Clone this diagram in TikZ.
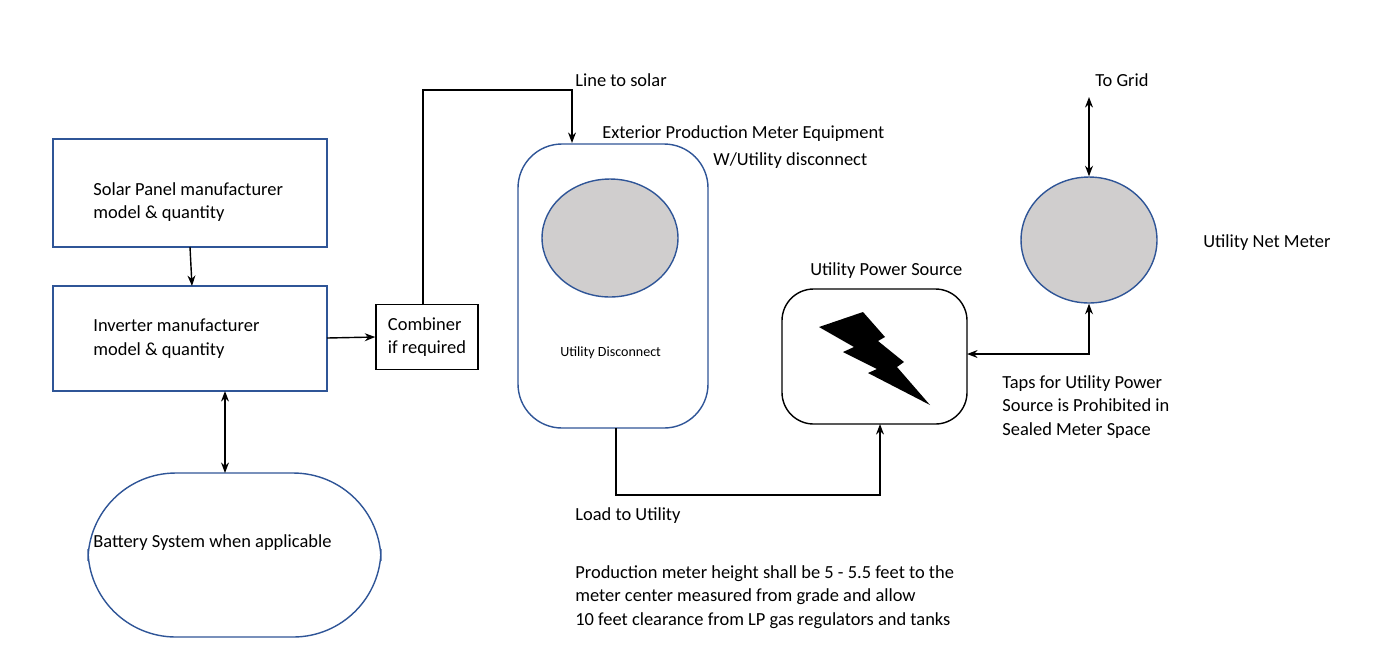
\documentclass[tikz,border=0pt]{standalone}
\usepackage{fontspec}
\setmainfont{Carlito}
\usetikzlibrary{shapes.geometric,arrows.meta,positioning}
\definecolor{meterblue}{HTML}{2F5597}
\definecolor{metergray}{HTML}{D0CECE}
\tikzset{
  box/.style={
    rectangle,
    draw=meterblue,
    thick,
  },
  meter/.style={
    ellipse,
    draw=meterblue,
    thick,
    fill=metergray,
  },
  txt/.style={
    anchor=west,
    inner sep=0pt,
    align=left,
    font=\fontsize{10.5}{13.5}\selectfont,
  },
  arrow/.style={
    thick, -{Stealth[length=6pt]},
  },
  darrow/.style={
    thick, {Stealth[length=6pt]}-{Stealth[length=6pt]},
  },
}

\begin{document}
\begin{tikzpicture}[x=0.02cm, y=-0.02cm]
  \useasboundingbox (0,0) rectangle (1389,664);

  % Solar side
  \draw[box] (53,139) rectangle (327,247);
  \coordinate (solar_b) at (190,247);
  \node (solar_txt) [txt] at (93,202) {Solar Panel manufacturer\\model \& quantity};
  \draw[box] (53,286) rectangle (327,391);
  \coordinate (inv_t) at (192,286);
  \coordinate (inv_b) at (225,391);
  \coordinate (inv_r) at (327,338);
  \node (inv_txt) [txt] at (93,339) {Inverter manufacturer\\model \& quantity};
  \draw[box, rounded corners=50] (88,473) rectangle (381,637);
  \coordinate (bat_t) at (225,473);
  \node (bat_txt) [txt] at (93,543) {Battery System when applicable};

  % Combiner
  \node (comb) [draw, thick, minimum width=2.04cm, minimum height=1.3cm,
    txt, anchor=center, inner sep=3pt] at (427,337) {Combiner\\if required};
  \coordinate (comb_t) at (423,305);
  \coordinate (solar_c1) at (423,90);
  \coordinate (solar_c2) at (572,90);
  \coordinate (meq_t) at (572,143);
  \node (line_txt) [txt] at (575,80) {Line to solar};

  % Production meter equipment
  \draw[box, rounded corners=25] (518,144) rectangle (708,428);
  \node (pmeter) [meter, minimum width=2.72cm, minimum height=2.36cm] at (610,238) {};
  \node (disc_txt) [txt, font=\fontsize{8}{10}\selectfont] at (560,353) {Utility Disconnect};
  \node (meq_txt1) [txt] at (602,134) {Exterior Production Meter Equipment};
  \node (meq_txt2) [txt] at (713,161) {W/Utility disconnect};
  \coordinate (meq_b) at (616,428);
  \coordinate (load_c1) at (616,495);
  \coordinate (load_c2) at (880,495);
  \node (load_txt) [txt] at (575,516) {Load to Utility};

  % Utility power source
  \draw[thick, rounded corners=18] (782,289) rectangle (967,424);
  \coordinate (ups_b) at (880,424);
  \coordinate (ups_r) at (967,354);
  \node (ups_txt) [txt] at (810,271) {Utility Power Source};
  \fill (819,327) -- (863,312) -- (885,337) -- (878,341) -- (904,362) -- (897,367)
    -- (930,405) -- (868,373) -- (877,369) -- (843,352) -- (854,347) -- cycle;

  % Net meter
  \node (nmeter) [meter, minimum width=2.72cm, minimum height=2.52cm] at (1089,240) {};
  \node (nm_txt) [txt] at (1203,243) {Utility Net Meter};
  \coordinate (grid) at (1089,97);
  \node (grid_txt) [txt] at (1095,80) {To Grid};
  \coordinate (tap_c) at (1089,354);
  \node (tap_txt) [txt] at (1002,407) {Taps for Utility Power\\Source is Prohibited in\\Sealed Meter Space};

  % Note
  \node (note_txt) [txt] at (575,597) {Production meter height shall be 5 - 5.5 feet to the\\meter center measured from grade and allow\\10 feet clearance from LP gas regulators and tanks};

  % Arrows
  \draw[arrow] (solar_b) -- (inv_t);
  \draw[darrow] (inv_b) -- (bat_t);
  \draw[arrow] (inv_r) -- (comb.west);
  \draw[arrow] (comb_t) -- (solar_c1) -- (solar_c2) -- (meq_t);
  \draw[arrow] (meq_b) -- (load_c1) -- (load_c2) -- (ups_b);
  \draw[darrow] (grid) -- (nmeter.north);
  \draw[darrow] (nmeter.south) -- (tap_c) -- (ups_r);
\end{tikzpicture}
\end{document}
